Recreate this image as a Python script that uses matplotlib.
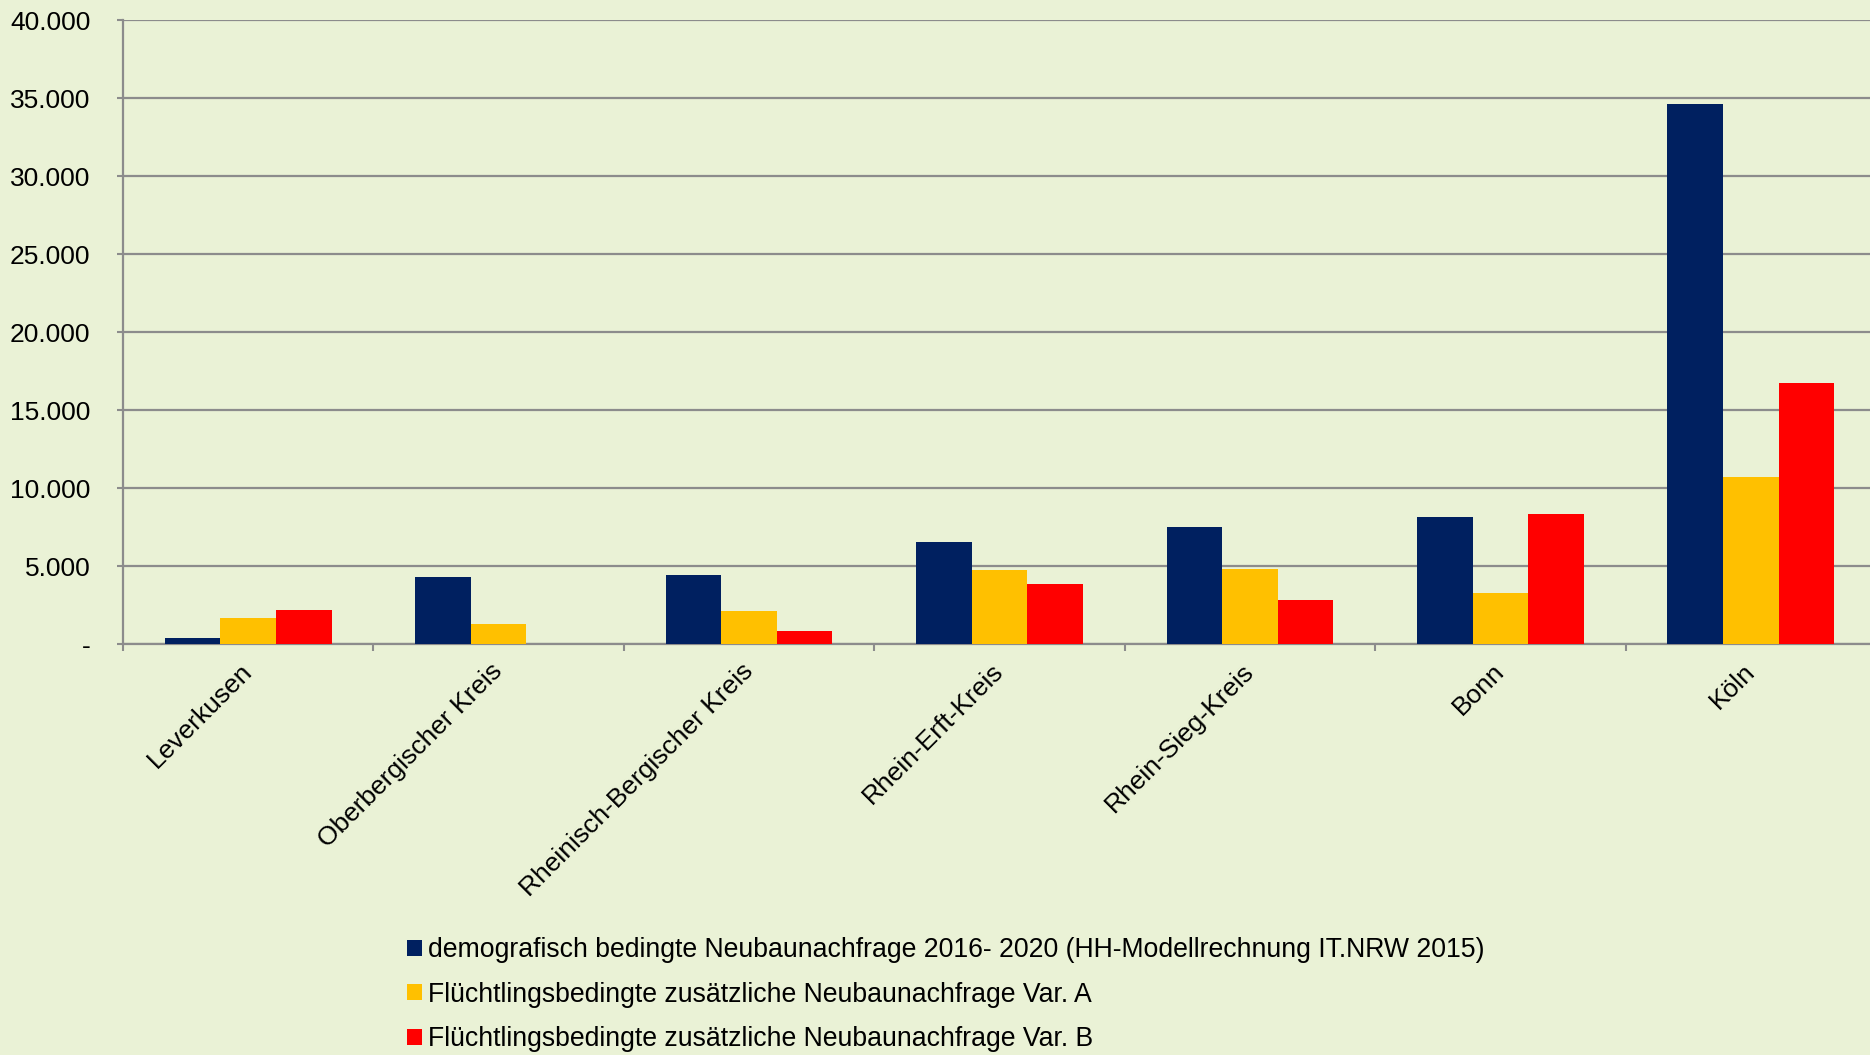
import numpy as np
import matplotlib
matplotlib.use("Agg")
import matplotlib.pyplot as plt
from matplotlib.ticker import FixedLocator, FuncFormatter

# ----------------------------
# Data
# ----------------------------

regions = ["Leverkusen", "Oberbergischer Kreis", "Rheinisch-Bergischer Kreis",
           "Rhein-Erft-Kreis", "Rhein-Sieg-Kreis", "Bonn", "Köln"]
demografisch = [380, 4300, 4450, 6570, 7480, 8150, 34600]
var_a = [1670, 1270, 2100, 4760, 4800, 3240, 10700]
var_b = [2150, 0, 850, 3820, 2800, 8350, 16700]

series_labels = ["demografisch bedingte Neubaunachfrage 2016- 2020 (HH-Modellrechnung IT.NRW 2015)",
                 "Flüchtlingsbedingte zusätzliche Neubaunachfrage Var. A",
                 "Flüchtlingsbedingte zusätzliche Neubaunachfrage Var. B"]
colors = ["#002060", "#FFC000", "#FF0000"]

y_ticks = [0, 5000, 10000, 15000, 20000, 25000, 30000, 35000, 40000]

# ----------------------------
# Plot
# ----------------------------

plt.rcParams['font.family'] = ['Liberation Sans', 'DejaVu Sans']
bg = "#EAF2D6"
grid_col = "#8C8C8C"
fs = 19

fig = plt.figure(figsize=(18.7, 10.55), dpi=100)
fig.patch.set_facecolor(bg)
ax = fig.add_axes([123 / 1870, 1 - 644 / 1055, (1876 - 123) / 1870, (644 - 20) / 1055])
ax.set_facecolor(bg)

x = np.arange(len(regions))
width = 0.222
bars = []
for i, (vals, col) in enumerate(zip([demografisch, var_a, var_b], colors)):
    b = ax.bar(x + (i - 1) * width, vals, width, color=col, zorder=3)
    bars.append(b)

ax.set_xlim(-0.5, len(regions) - 0.5)
ax.set_ylim(0, 40000)

ax.yaxis.set_major_locator(FixedLocator(y_ticks))
ax.yaxis.set_major_formatter(FuncFormatter(
    lambda v, p: "-" if v == 0 else "{:,.0f}".format(v).replace(",", ".")))
ax.grid(axis='y', color=grid_col, linewidth=1.6, zorder=0)
ax.tick_params(axis='y', length=4.5, width=1.5, color=grid_col, pad=19, labelsize=fs)

ax.set_xticks(x)
ax.set_xticklabels(regions, rotation=45, ha='right', va='center',
                   rotation_mode='anchor', fontsize=fs)
ax.tick_params(axis='x', which='major', length=0, pad=17)
ax.set_xticks(np.arange(-0.5, len(regions) + 0.5, 1), minor=True)
ax.tick_params(axis='x', which='minor', length=5, width=1.5, color=grid_col)

for s in ['top', 'right']:
    ax.spines[s].set_visible(False)
for s in ['left', 'bottom']:
    ax.spines[s].set_color(grid_col)
    ax.spines[s].set_linewidth(1.6)

fig.legend([b[0] for b in bars], series_labels, loc='upper left',
           bbox_to_anchor=(407 / 1870, 1 - 937 / 1055), frameon=False,
           fontsize=19.2, handlelength=0.55, handleheight=0.55, handletextpad=0.25,
           labelspacing=0.7, borderpad=0, borderaxespad=0)

fig.savefig("out.png", dpi=100, facecolor=bg)
